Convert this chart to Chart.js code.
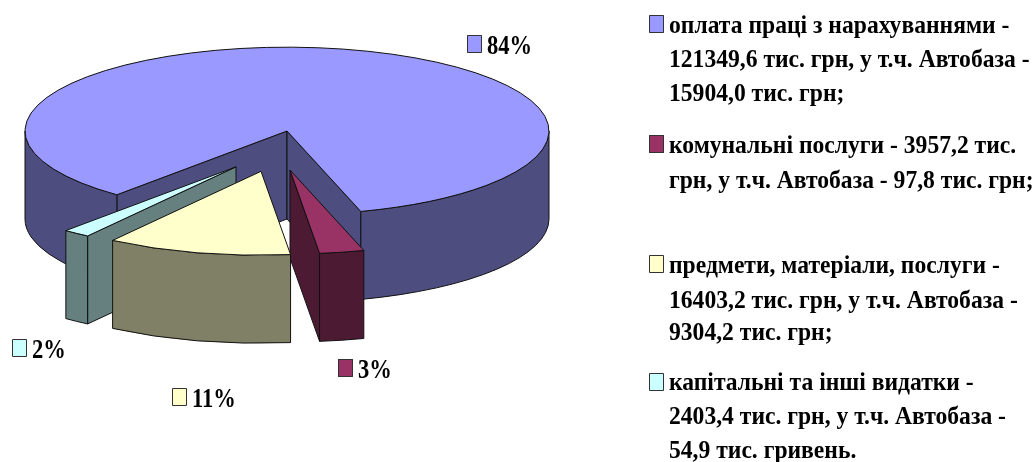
<!DOCTYPE html>
<html>
<head>
<meta charset="utf-8">
<title>Витрати</title>
<script src="https://cdn.jsdelivr.net/npm/chart.js@4"></script>
<style>
  html, body { margin: 0; padding: 0; background: #fff; overflow: hidden; }
  canvas { display: block; }
</style>
</head>
<body>
<canvas id="myChart" width="1035" height="462"></canvas>
<script>
// data
const categories = [
  "оплата праці з нарахуваннями",
  "комунальні послуги",
  "предмети, матеріали, послуги",
  "капітальні та інші видатки",
];
const values = [121349.6, 3957.2, 16403.2, 2403.4];
const legendLines = [
  ["оплата праці з нарахуваннями -", "121349,6 тис. грн, у т.ч. Автобаза -", "15904,0 тис. грн;"],
  ["комунальні послуги - 3957,2 тис.", "грн, у т.ч. Автобаза - 97,8 тис. грн;"],
  ["предмети, матеріали, послуги -", "16403,2 тис. грн, у т.ч. Автобаза -", "9304,2 тис. грн;"],
  ["капітальні та інші видатки -", "2403,4 тис. грн, у т.ч. Автобаза -", "54,9 тис. гривень."],
];

// colours
const topColors = ["#9999FF", "#993366", "#FFFFCC", "#CCFFFF"];
const wallColors = ["#4D4D80", "#4D1A33", "#808066", "#668080"];

// look of the 3d pie
const squash = 0.32;
const depth = 88;
const sliceShiftX = [0, 3, -26, -51];
const sliceShiftY = [0, 122, 126, 112];
const wallOrder = [0, 3, 1, 2];

// where the label boxes go
const labelSpots = [
  { x: 467, y: 35 },
  { x: 338, y: 359 },
  { x: 172, y: 388 },
  { x: 12, y: 339 },
];
const legendSpots = [
  { x: 649, y: 15, lines: [33, 67, 101] },
  { x: 649, y: 135, lines: [153, 188] },
  { x: 649, y: 255, lines: [273, 308, 340] },
  { x: 649, y: 373, lines: [390, 424, 458] },
];

const total = values.reduce((a, b) => a + b, 0);

function stretchedText(ctx, text, x, y, size, sx) {
  ctx.save();
  ctx.font = "bold " + size + "px 'Liberation Serif'";
  ctx.fillStyle = "#000";
  ctx.textBaseline = "alphabetic";
  ctx.translate(x, y);
  ctx.scale(sx, 1);
  ctx.fillText(text, 0, 0);
  ctx.restore();
}

function colorBox(ctx, x, y, color) {
  ctx.fillStyle = color;
  ctx.fillRect(x, y, 15, 18);
  ctx.strokeStyle = "#333";
  ctx.lineWidth = 1;
  ctx.strokeRect(x + 0.5, y + 0.5, 14, 17);
}

const pie3d = {
  id: "pie3d",
  // pull the slices out by hand, excel does not move them along the mid angle
  afterDatasetsUpdate(chart) {
    chart.getDatasetMeta(0).data.forEach((arc, i) => {
      arc.x += sliceShiftX[i];
      arc.y += sliceShiftY[i];
    });
  },
  beforeDatasetsDraw(chart) {
    const ctx = chart.ctx;
    const arcs = chart.getDatasetMeta(0).data;
    const cy = arcs[0].y;
    ctx.lineWidth = 1;
    ctx.lineJoin = "round";
    ctx.strokeStyle = "#111";
    wallOrder.forEach((i) => {
      const arc = arcs[i];
      const x = arc.x;
      const y = cy + (arc.y - cy) * squash;
      const r = arc.outerRadius;
      const ry = r * squash;
      ctx.fillStyle = wallColors[i];

      // cut faces, only the ones turned to the viewer
      const cuts = [];
      if (Math.cos(arc.startAngle) < 0) cuts.push(arc.startAngle);
      if (Math.cos(arc.endAngle) > 0) cuts.push(arc.endAngle);
      cuts.forEach((a) => {
        const px = x + r * Math.cos(a);
        const py = y + ry * Math.sin(a);
        ctx.beginPath();
        ctx.moveTo(x, y);
        ctx.lineTo(px, py);
        ctx.lineTo(px, py + depth);
        ctx.lineTo(x, y + depth);
        ctx.closePath();
        ctx.fill();
        ctx.stroke();
      });

      // rim, front half of the ellipse only
      for (let k = 0; k < 2; k++) {
        const from = Math.max(arc.startAngle, k * 2 * Math.PI);
        const to = Math.min(arc.endAngle, k * 2 * Math.PI + Math.PI);
        if (to <= from) continue;
        ctx.beginPath();
        ctx.ellipse(x, y, r, ry, 0, from, to);
        ctx.ellipse(x, y + depth, r, ry, 0, to, from, true);
        ctx.closePath();
        ctx.fill();
        ctx.stroke();
      }
    });
    // the library draws the tops flattened
    ctx.save();
    ctx.translate(0, cy);
    ctx.scale(1, squash);
    ctx.translate(0, -cy);
  },
  afterDatasetsDraw(chart) {
    const ctx = chart.ctx;
    ctx.restore();
    const arcs = chart.getDatasetMeta(0).data;
    const cy = arcs[0].y;
    ctx.strokeStyle = "#111";
    ctx.lineWidth = 1;
    arcs.forEach((arc) => {
      const y = cy + (arc.y - cy) * squash;
      ctx.beginPath();
      ctx.moveTo(arc.x, y);
      ctx.ellipse(arc.x, y, arc.outerRadius, arc.outerRadius * squash, 0, arc.startAngle, arc.endAngle);
      ctx.closePath();
      ctx.stroke();
    });
  },
  afterDraw(chart) {
    const ctx = chart.ctx;
    values.forEach((v, i) => {
      const spot = labelSpots[i];
      colorBox(ctx, spot.x, spot.y, topColors[i]);
      const text = Math.round((v / total) * 100) + "%";
      stretchedText(ctx, text, spot.x + 20, spot.y + 19, 27, 0.835);
    });
    legendLines.forEach((lines, i) => {
      const spot = legendSpots[i];
      colorBox(ctx, spot.x, spot.y, topColors[i]);
      lines.forEach((line, n) => {
        stretchedText(ctx, line, spot.x + 20, spot.lines[n], 25, 0.944);
      });
    });
  },
};

const config = {
  type: "pie",
  data: {
    labels: categories,
    datasets: [
      {
        data: values,
        backgroundColor: topColors,
        borderWidth: 0,
        clip: false,
      },
    ],
  },
  options: {
    responsive: false,
    animation: false,
    rotation: 220.5,
    radius: 262,
    layout: { padding: { left: 0, top: 0, right: 461, bottom: 200 } },
    plugins: {
      legend: { display: false },
      tooltip: { enabled: false },
    },
  },
  plugins: [pie3d],
};

const myChart = new Chart(document.getElementById("myChart"), config);
</script>
</body>
</html>
